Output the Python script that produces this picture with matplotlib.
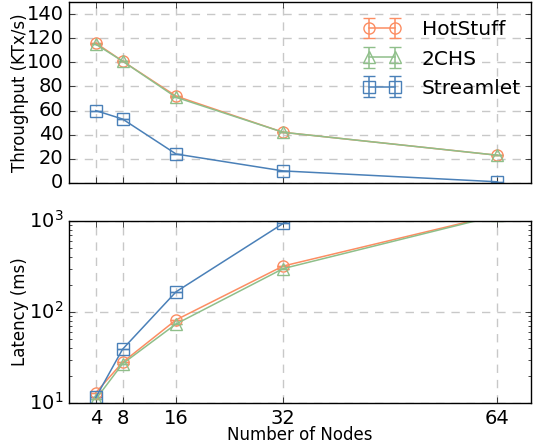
import matplotlib
matplotlib.use("Agg")
import matplotlib.pyplot as plt
import numpy as np

plt.style.use('classic')

nodes = [4, 8, 16, 32, 64]
labels = ['HotStuff', '2CHS', 'Streamlet']

# throughput (KTx/s)
tput_hotstuff = [116, 101, 72, 42, 23]
tput_2chs = [115, 101, 71, 42, 23]
tput_streamlet = [60, 53, 24, 10, 1]

# latency (ms)
lat_hotstuff = [13, 28, 82, 320, 1170]
lat_2chs = [11, 27, 74, 300, 1150]
lat_streamlet = [11.5, 39, 167, 940, 10000]

err_zero = [0, 0, 0, 0, 0]

colors = ['#fc8d62', '#8fbf8a', '#4a80b8']
markers = ['o', '^', 's']

fig = plt.figure(figsize=(5.33, 4.46), dpi=100)
ax1 = fig.add_axes([0.1295, 0.5897, 0.8665, 0.4058])
ax2 = fig.add_axes([0.1295, 0.0964, 0.8665, 0.4081])

tputs = [tput_hotstuff, tput_2chs, tput_streamlet]
lats = [lat_hotstuff, lat_2chs, lat_streamlet]

for i in range(3):
    for ax, ys in ((ax1, tputs[i]), (ax2, lats[i])):
        ax.errorbar(nodes, ys, yerr=err_zero, color=colors[i], marker=markers[i],
                    markerfacecolor='none', markeredgecolor=colors[i], markersize=8,
                    markeredgewidth=1, linewidth=1.1, capsize=4, label=labels[i])

for ax in (ax1, ax2):
    ax.set_xlim(0, 69)
    ax.set_xticks(nodes)
    ax.grid(True, linestyle=(0, (6, 5)), color='#c8c8c8', linewidth=1)
    ax.set_axisbelow(True)
    ax.tick_params(labelsize=14)

ax1.set_ylim(0, 150)
ax1.set_yticks(range(0, 141, 20))
ax1.set_xticklabels([])
ax1.set_ylabel('Throughput (KTx/s)', fontsize=12, labelpad=-2)
leg = ax1.legend(loc='upper right', bbox_to_anchor=(0.978, 0.898), frameon=False,
                 fontsize=14.5, numpoints=2, handlelength=1.9, borderaxespad=0,
                 borderpad=0, labelspacing=0.5, handletextpad=1.0)

ax2.set_yscale('log')
ax2.set_ylim(10, 1000)
ax2.set_ylabel('Latency (ms)', fontsize=12, labelpad=0)
ax2.set_xlabel('Number of Nodes', fontsize=12, labelpad=-1)

fig.savefig('out.png', dpi=100)
